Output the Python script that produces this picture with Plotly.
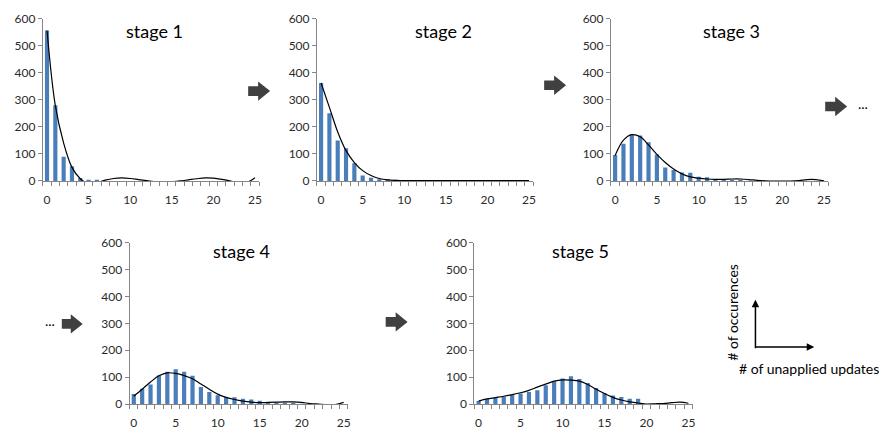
import plotly.graph_objects as go

W, H = 889, 441

categories = list(range(26))
tick_labels = ["0", "5", "10", "15", "20", "25"]
tick_positions = [0, 5, 10, 15, 20, 25]
y_ticks = [0, 100, 200, 300, 400, 500, 600]
titles = ["stage 1", "stage 2", "stage 3", "stage 4", "stage 5"]

s1_bars = [556, 280, 89, 54, 11, 3, 2, 0, 0, 0, 0, 0, 0, 0, 0, 0, 0, 0, 0, 0, 0, 0, 0, 0, 0, 0]
s1_curve = [556, 278, 140, 50, 8, -10, -6, 3, 9, 11, 9, 5, 1, -3, -4, -3, 0, 4, 8, 11, 10, 6, 0, -5, -6, 12]

s2_bars = [362, 250, 149, 121, 65, 20, 12, 6, 6, 2, 1, 1, 0, 0, 0, 0, 0, 0, 0, 0, 0, 0, 0, 0, 0, 0]
s2_curve = [362, 272, 181, 112, 68, 38, 20, 9, 4, 2, 1, 1, 1, 1, 1, 1, 1, 1, 1, 1, 1, 1, 1, 1, 1, 1]

s3_bars = [96, 137, 171, 168, 143, 98, 50, 40, 31, 30, 15, 14, 6, 5, 3, 2, 1, 0, 0, 0, 0, 0, 0, 0, 0, 0]
s3_curve = [94, 151, 171, 163, 133, 98, 68, 44, 26, 15, 10, 7, 6, 6, 7, 7, 5, 2, 0, -1, -1, -1, 1, 5, 5, 0]

s4_bars = [37, 57, 73, 106, 120, 129, 120, 105, 63, 45, 33, 25, 25, 20, 17, 12, 8, 5, 3, 2, 1, 1, 0, 0, 0, 0]
s4_curve = [29, 55, 82, 105, 116, 114, 106, 94, 75, 55, 37, 25, 17, 11, 7, 5, 6, 7, 8, 8, 6, 2, 0, -2, -2, 6]

s5_bars = [11, 19, 23, 27, 35, 39, 45, 51, 70, 85, 95, 103, 93, 78, 60, 41, 32, 26, 20, 20, 0, 0, 0, 0, 0, 0]
s5_curve = [11, 19, 24, 29, 35, 42, 51, 63, 74, 85, 90, 89, 85, 73, 55, 39, 25, 15, 8, 4, 0, 1, 2, 5, 7, 3]

bars = [s1_bars, s2_bars, s3_bars, s4_bars, s5_bars]
curves = [s1_curve, s2_curve, s3_curve, s4_curve, s5_curve]

FONT = "Lato, Carlito, Calibri, 'Open Sans', sans-serif"
BAR = "#4a7ebb"
AXIS = "#868686"
TXT = "#2b2b2b"


def fx(px):
    return px / W


def fy(py):
    return 1 - py / H


# plot areas in pixels: (left, right, top(600), bottom(0))
areas = [
    (43, 260, 11, 179),
    (318, 535, 11, 179),
    (613, 831, 11, 179),
    (130, 349, 243, 410),
    (476, 695, 243, 410),
]
title_pos = [(155, 24), (445, 24), (734, 24), (242, 252), (582, 252)]

fig = go.Figure()
layout = dict(
    width=W, height=H,
    margin=dict(l=0, r=0, t=0, b=0),
    paper_bgcolor="white", plot_bgcolor="white",
    showlegend=False,
    font=dict(family=FONT, color=TXT, size=12),
    bargap=0.5,
)

annotations = []
shapes = []

for i in range(5):
    n = "" if i == 0 else str(i + 1)
    xa, ya = "x" + n, "y" + n
    fig.add_trace(go.Bar(x=categories, y=bars[i], marker=dict(color=BAR, line=dict(width=0)),
                         width=0.5, xaxis=xa, yaxis=ya))
    fig.add_trace(go.Scatter(x=categories, y=curves[i], mode="lines",
                             line=dict(color="black", width=1.2, shape="spline", smoothing=1.0),
                             xaxis=xa, yaxis=ya))
    l, r, t, b = areas[i]
    layout["xaxis" + n] = dict(
        domain=[fx(l), fx(r)], anchor=ya, range=[-0.5, 25.5],
        tickmode="array", tickvals=tick_positions, ticktext=tick_labels,
        ticks="", showline=True, linecolor=AXIS, linewidth=1,
        showgrid=False, zeroline=False, ticklabelstandoff=8,
        tickfont=dict(family=FONT, size=12, color=TXT),
        minor=dict(ticks="outside", ticklen=4, tickcolor=AXIS, tick0=0.5, dtick=1, showgrid=False),
        fixedrange=True,
    )
    layout["yaxis" + n] = dict(
        domain=[fy(b), fy(t)], anchor=xa, range=[0, 600],
        tickmode="array", tickvals=y_ticks,
        ticks="outside", ticklen=4, tickcolor=AXIS,
        showline=True, linecolor=AXIS, linewidth=1,
        showgrid=False, zeroline=False,
        tickfont=dict(family=FONT, size=12, color=TXT),
        fixedrange=True,
    )
    tx, ty = title_pos[i]
    annotations.append(dict(text=titles[i], x=fx(tx), y=fy(ty), xref="paper", yref="paper",
                            showarrow=False, xanchor="center", yanchor="middle",
                            font=dict(family=FONT, size=18, color="black")))

# block arrows between panels
block_arrows = [(249, 271, 86), (546, 568, 80), (828, 850, 102), (62, 83, 327), (387, 409, 325)]
for x0, x1, cy in block_arrows:
    xs = x1 - 12
    pts = [(x0, cy - 5), (xs, cy - 5), (xs, cy - 10), (x1, cy), (xs, cy + 10), (xs, cy + 5), (x0, cy + 5)]
    path = "M " + " L ".join(f"{fx(a):.5f},{fy(c):.5f}" for a, c in pts) + " Z"
    shapes.append(dict(type="path", path=path, xref="paper", yref="paper",
                       fillcolor="#404040", line=dict(width=0)))

for ex, ey in [(866, 99), (50, 323)]:
    annotations.append(dict(text="...", x=fx(ex), y=fy(ey), xref="paper", yref="paper",
                            showarrow=False, xanchor="center", yanchor="middle",
                            font=dict(family=FONT, size=14, color="black")))

# axis legend
annotations.append(dict(text="", x=fx(758), y=fy(302), xref="paper", yref="paper",
                        showarrow=True, ax=0, ay=50, arrowhead=2, arrowsize=1, arrowwidth=1.5,
                        arrowcolor="black"))
annotations.append(dict(text="", x=fx(817), y=fy(351), xref="paper", yref="paper",
                        showarrow=True, ax=-60, ay=0, arrowhead=2, arrowsize=1, arrowwidth=1.5,
                        arrowcolor="black"))
annotations.append(dict(text="# of occurences", x=fx(735), y=fy(315), xref="paper", yref="paper",
                        showarrow=False, textangle=-90, xanchor="center", yanchor="middle",
                        font=dict(family=FONT, size=14, color="black")))
annotations.append(dict(text="# of unapplied updates", x=fx(812), y=fy(373), xref="paper", yref="paper",
                        showarrow=False, xanchor="center", yanchor="middle",
                        font=dict(family=FONT, size=14, color="black")))

layout["annotations"] = annotations
layout["shapes"] = shapes
fig.update_layout(**layout)
fig.write_html("out.html")
